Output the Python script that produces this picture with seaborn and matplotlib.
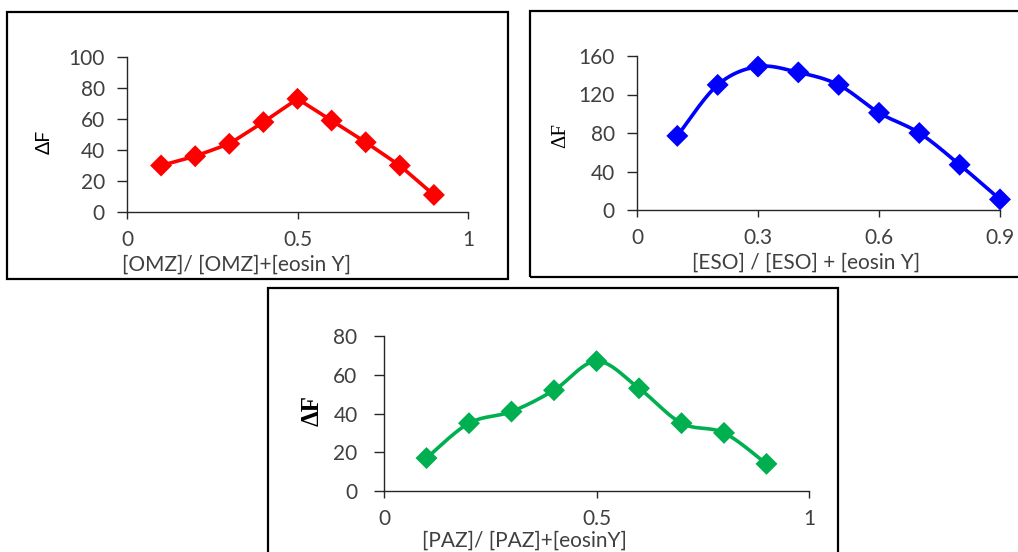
import numpy as np
import pandas as pd
import matplotlib
matplotlib.use("Agg")
import matplotlib.pyplot as plt
from matplotlib.patches import Rectangle
import seaborn as sns

# ---------------- data ----------------
x_frac = [0.1, 0.2, 0.3, 0.4, 0.5, 0.6, 0.7, 0.8, 0.9]
omz_dF = [30, 36, 44, 58, 73, 59, 45, 30, 11]
eso_dF = [77, 130, 149, 143, 130, 101, 80, 47, 11]
paz_dF = [17, 35, 41, 52, 67, 53, 35, 30, 14]

omz_xticks = [0, 0.5, 1]
omz_yticks = [0, 20, 40, 60, 80, 100]
eso_xticks = [0, 0.3, 0.6, 0.9]
eso_yticks = [0, 40, 80, 120, 160]
paz_xticks = [0, 0.5, 1]
paz_yticks = [0, 20, 40, 60, 80]

omz_xlabel = "[OMZ]/ [OMZ]+[eosin Y]"
eso_xlabel = "[ESO] / [ESO] + [eosin Y]"
paz_xlabel = "[PAZ]/ [PAZ]+[eosinY]"
ylabel = "ΔF"

RED, BLUE, GREEN = "#FF0000", "#0000FF", "#00B050"
AX_COL = "#262626"
TXT_COL = "#404040"

sns.set_theme(style="white")
plt.rcParams["font.family"] = ["Lato", "DejaVu Sans"]

W, H = 1018, 552
fig = plt.figure(figsize=(W / 100, H / 100), dpi=100)


def fx(px):
    return px / W


def fy(py):
    return 1 - py / H


def excel_smooth(x, y, n=24):
    p = np.column_stack([x, y]).astype(float)
    m = len(p)
    out = []
    for i in range(m - 1):
        p0 = p[i]
        p3 = p[i + 1]
        pm = p[i - 1] if i > 0 else p[i]
        pp = p[i + 2] if i + 2 < m else p[i + 1]
        c1 = p0 + (p3 - pm) / 6.0
        c2 = p3 - (pp - p0) / 6.0
        t = np.linspace(0, 1, n, endpoint=(i == m - 2))[:, None]
        seg = ((1 - t) ** 3) * p0 + 3 * ((1 - t) ** 2) * t * c1 + 3 * (1 - t) * t ** 2 * c2 + t ** 3 * p3
        out.append(seg)
    out = np.vstack(out)
    return out[:, 0], out[:, 1]


def make_panel(rect_px, ys, color, smooth, xlim, xticks, ylim, yticks,
               xlabel, xlabel_pos, ylabel_pos, yl_kw, tick_fs=15, ypad=9):
    l, t, r, b = rect_px
    ax = fig.add_axes([fx(l), fy(b), fx(r - l), (b - t) / H])
    df = pd.DataFrame({"x": x_frac, "y": ys})
    if smooth:
        sx, sy = excel_smooth(df["x"].values, df["y"].values)
    else:
        sx, sy = df["x"].values, df["y"].values
    sns.lineplot(x=sx, y=sy, sort=False, estimator=None, color=color, lw=2.6, ax=ax)
    sns.scatterplot(data=df, x="x", y="y", marker="D", s=125, color=color,
                    edgecolor="none", ax=ax, zorder=3, clip_on=False)
    ax.set_xlim(*xlim)
    ax.set_ylim(*ylim)
    ax.set_xticks(xticks)
    ax.set_xticklabels([f"{v:g}" for v in xticks])
    ax.set_yticks(yticks)
    ax.set_yticklabels([f"{v:g}" for v in yticks])
    for s in ["top", "right"]:
        ax.spines[s].set_visible(False)
    for s in ["left", "bottom"]:
        ax.spines[s].set_color(AX_COL)
        ax.spines[s].set_linewidth(1.0)
    ax.tick_params(axis="x", direction="out", length=5, width=1, color=AX_COL,
                   pad=8, labelsize=tick_fs, labelcolor=TXT_COL, bottom=True)
    ax.tick_params(axis="y", direction="out", length=7, width=1, color=AX_COL,
                   pad=ypad, labelsize=tick_fs, labelcolor=TXT_COL, left=True)
    ax.set_xlabel("")
    ax.set_ylabel("")
    ax.grid(False)
    ax.patch.set_alpha(0)
    fig.text(fx(xlabel_pos[0]), fy(xlabel_pos[1]), xlabel, ha="center", va="center",
             fontsize=15, color=TXT_COL)
    fig.text(fx(ylabel_pos[0]), fy(ylabel_pos[1]), ylabel, ha="center", va="center",
             rotation=90, **yl_kw)
    return ax


# panel frames
for (l, t, r, b) in [(7, 12, 508, 279), (530, 11, 1030, 277), (268, 288, 838, 570)]:
    fig.add_artist(Rectangle((fx(l), fy(b)), fx(r - l), (b - t) / H, transform=fig.transFigure,
                             fill=False, edgecolor="black", lw=1.6))

make_panel((127, 57, 468, 212), omz_dF, RED, False, (0, 1), omz_xticks, (0, 100), omz_yticks,
           omz_xlabel, (237, 265), (44, 142),
           dict(fontsize=14, color="black"), ypad=9)
make_panel((637, 56, 1000, 210), eso_dF, BLUE, True, (0, 0.9), eso_xticks, (0, 160), eso_yticks,
           eso_xlabel, (806, 263), (561, 136),
           dict(fontsize=15, color="black", family=["Liberation Serif", "DejaVu Serif"]), ypad=9)
make_panel((384, 336, 809, 491), paz_dF, GREEN, True, (0, 1), paz_xticks, (0, 80), paz_yticks,
           paz_xlabel, (524, 541), (312, 410),
           dict(fontsize=18, color="black", fontweight="bold",
                family=["Liberation Serif", "DejaVu Serif"]), ypad=12)

fig.savefig("out.png", dpi=100)
